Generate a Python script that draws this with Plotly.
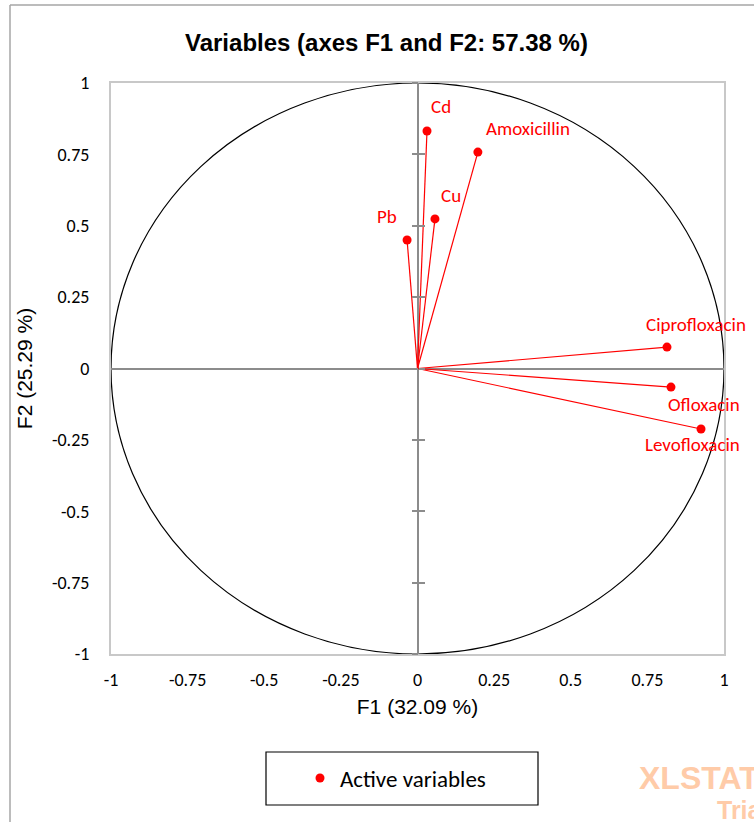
import plotly.graph_objects as go

# ---- data ----
variables = ["Cd", "Amoxicillin", "Cu", "Pb", "Ciprofloxacin", "Ofloxacin", "Levofloxacin"]
f1 = [0.031, 0.197, 0.057, -0.034, 0.814, 0.827, 0.925]
f2 = [0.832, 0.758, 0.524, 0.450, 0.075, -0.065, -0.212]
tick_vals = [-1, -0.75, -0.5, -0.25, 0, 0.25, 0.5, 0.75, 1]
tick_text = ["-1", "-0.75", "-0.5", "-0.25", "0", "0.25", "0.5", "0.75", "1"]
title_text = "Variables (axes F1 and F2: 57.38 %)"
x_title = "F1 (32.09 %)"
y_title = "F2 (25.29 %)"
legend_name = "Active variables"

# label placement (pixel offsets from point)
label_style = {
    "Cd": (14, 24, "center"),
    "Amoxicillin": (6, 24, "left"),
    "Cu": (16, 23, "center"),
    "Pb": (-20, 24, "center"),
    "Ciprofloxacin": (29, 23, "center"),
    "Ofloxacin": (33, -17, "center"),
    "Levofloxacin": (-9, -15, "center"),
}

W, H = 754, 822
L, R, T, B = 111, 30, 83, 168
PW, PH = W - L - R, H - T - B


def px(xp):
    return (xp - L) / PW


def py(yp):
    return (H - B - yp) / PH


RED = "#FF0000"
CAL = "Carlito, Noto Sans, sans-serif"
ARIAL = "Liberation Sans, Arial, sans-serif"

fig = go.Figure()

# vectors from origin
lx, ly = [], []
for a, b in zip(f1, f2):
    lx += [0, a, None]
    ly += [0, b, None]
fig.add_trace(go.Scatter(x=lx, y=ly, mode="lines", line=dict(color=RED, width=1.2),
                         showlegend=False, hoverinfo="skip"))
fig.add_trace(go.Scatter(x=f1, y=f2, mode="markers", name=legend_name, text=variables,
                         marker=dict(color=RED, size=9), showlegend=True))

# invisible traces to create tick axes on zero line
for ya in ["y2", "y3"]:
    fig.add_trace(go.Scatter(x=[0], y=[0], yaxis=ya, mode="markers",
                             marker=dict(opacity=0), showlegend=False, hoverinfo="skip"))

annotations = []
for name, a, b in zip(variables, f1, f2):
    dx, dy, anc = label_style[name]
    annotations.append(dict(x=a, y=b, xref="x", yref="y", text=name, showarrow=False,
                            xshift=dx, yshift=dy, xanchor=anc, yanchor="middle",
                            font=dict(family=CAL, size=19, color=RED)))

annotations.append(dict(x=px(386), y=py(42), xref="paper", yref="paper", text="<b>" + title_text + "</b>",
                        showarrow=False, xanchor="center", yanchor="middle",
                        font=dict(family=ARIAL, size=24, color="black")))
annotations.append(dict(x=px(637), y=py(778), xref="paper", yref="paper", text="<b>XLSTAT</b>",
                        showarrow=False, xanchor="left", yanchor="middle",
                        font=dict(family=ARIAL, size=32, color="#FFCBA8")))
annotations.append(dict(x=px(715), y=py(810), xref="paper", yref="paper", text="<b>Trial</b>",
                        showarrow=False, xanchor="left", yanchor="middle",
                        font=dict(family=ARIAL, size=25, color="#FFCBA8")))

shapes = [
    dict(type="circle", xref="x", yref="y", x0=-1, y0=-1, x1=1, y1=1,
         line=dict(color="black", width=1.2), layer="below"),
    # legend box
    dict(type="rect", xref="paper", yref="paper", x0=px(266), x1=px(538), y0=py(805), y1=py(752),
         line=dict(color="black", width=1.2)),
    # outer chart frame (top and left)
    dict(type="line", xref="paper", yref="paper", x0=px(10), x1=px(760), y0=py(5), y1=py(5),
         line=dict(color="#A6A6A6", width=1.5)),
    dict(type="line", xref="paper", yref="paper", x0=px(10), x1=px(10), y0=py(5), y1=py(830),
         line=dict(color="#A6A6A6", width=1.5)),
]

axis_font = dict(family=CAL, size=18, color="black")
fig.update_layout(
    width=W, height=H,
    margin=dict(l=L, r=R, t=T, b=B),
    paper_bgcolor="white", plot_bgcolor="white",
    annotations=annotations, shapes=shapes,
    xaxis=dict(range=[-1, 1], tickvals=tick_vals, ticktext=tick_text, tickfont=axis_font,
               showgrid=False, zeroline=True, zerolinecolor="#8C8C8C", zerolinewidth=1.5,
               showline=True, mirror=True, linecolor="#C8C8C8", linewidth=2, ticks="",
               ticklabelstandoff=8,
               title=dict(text=x_title, font=dict(family=ARIAL, size=21, color="black"), standoff=10)),
    yaxis=dict(range=[-1, 1], tickvals=tick_vals, ticktext=tick_text, tickfont=axis_font,
               showgrid=False, zeroline=True, zerolinecolor="#8C8C8C", zerolinewidth=1.5,
               showline=True, mirror=True, linecolor="#C8C8C8", linewidth=2, ticks="",
               ticklabelstandoff=16,
               title=dict(text=y_title, font=dict(family=ARIAL, size=21, color="black"), standoff=14)),
    yaxis2=dict(range=[-1, 1], overlaying="y", anchor="free", position=0.5, side="left",
                tickvals=tick_vals, ticks="outside", ticklen=6, tickwidth=1.5, tickcolor="#8C8C8C",
                showticklabels=False, showgrid=False, zeroline=False, showline=False),
    yaxis3=dict(range=[-1, 1], overlaying="y", anchor="free", position=0.5, side="left",
                tickvals=tick_vals, ticks="inside", ticklen=6, tickwidth=1.5, tickcolor="#8C8C8C",
                showticklabels=False, showgrid=False, zeroline=False, showline=False),
    legend=dict(x=px(300), y=py(778), xanchor="left", yanchor="middle",
                font=dict(family=CAL, size=23, color="black"), bgcolor="rgba(0,0,0,0)",
                borderwidth=0, itemwidth=30),
    showlegend=True,
)

fig.write_html("out.html")
